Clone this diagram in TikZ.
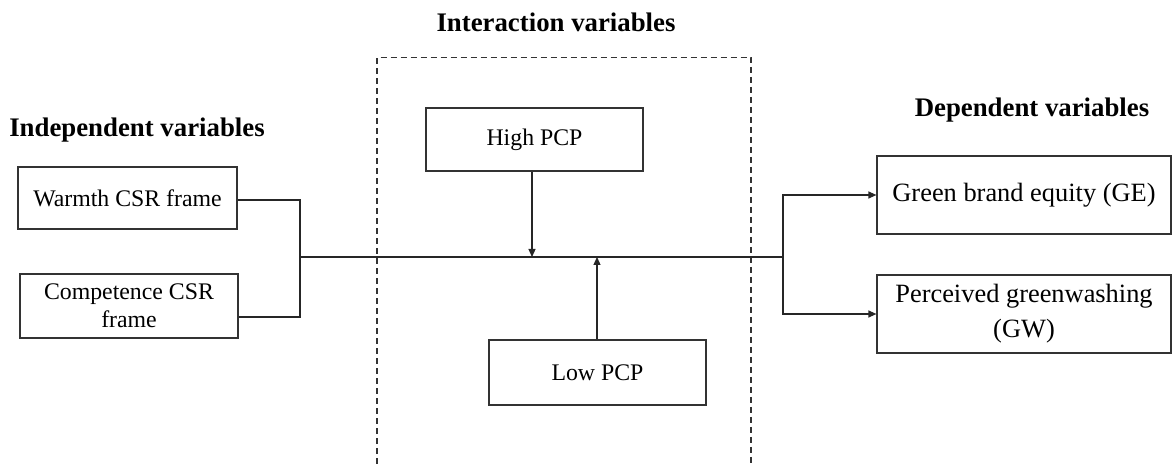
\documentclass[tikz,border=0pt]{standalone}
\usepackage{fontspec}
\setmainfont{Liberation Serif}
\usetikzlibrary{arrows.meta}
\begin{document}
\begin{tikzpicture}[x=0.5pt,y=-0.5pt,
  box/.style={draw=black!80, line width=0.6pt, rectangle, inner sep=2pt, align=center,
    font=\fontsize{11.9}{14}\selectfont},
  bigbox/.style={box, font=\fontsize{13.2}{17.5}\selectfont},
  ttl/.style={anchor=base, inner sep=0pt, font=\fontsize{13.4}{16}\selectfont\bfseries},
  conn/.style={draw=black!85, line width=0.6pt},
  arr/.style={conn, -{Triangle[length=4pt,width=3.5pt]}},
  dashbox/.style={draw=black!80, line width=0.6pt, dash pattern=on 3pt off 2pt}]
\useasboundingbox (0,0) rectangle (1172,464);
% titles
\node[ttl] (tint) at (556,32) {Interaction variables};
\node[ttl] (tind) at (137,137) {Independent variables};
\node[ttl] (tdep) at (1032,117) {Dependent variables};
% dashed frame
\draw[dashbox] (377,464) -- (377,57.5) -- (751,57.5) -- (751,464);
% boxes
\node[box, minimum width=109.5pt, minimum height=31pt] (warm) at (127.5,198) {Warmth CSR frame};
\node[box, minimum width=109pt, minimum height=32pt] (comp) at (129,306) {Competence CSR\\frame};
\node[box, minimum width=108.5pt, minimum height=31.5pt] (high) at (534.5,139.5) {High PCP};
\node[box, minimum width=108.5pt, minimum height=32.5pt] (low) at (597.5,372.5) {Low PCP};
\node[bigbox, minimum width=147pt, minimum height=39pt] (ge) at (1024,195) {Green brand equity (GE)};
\node[bigbox, minimum width=147pt, minimum height=39pt] (gw) at (1024,314) {Perceived greenwashing\\(GW)};
% junctions
\coordinate (j1) at (300,257);
\coordinate (j2) at (783,257);
% connectors
\draw[conn] ([yshift=-1pt]warm.east) -| (j1);
\draw[conn] ([yshift=-5.5pt]comp.east) -| (j1);
\draw[conn] (j1) -- (j2);
\draw[arr] (j2) |- (ge.west);
\draw[arr] (j2) |- (gw.west);
\draw[arr] (high.south -| 532,0) -- (532,257);
\draw[arr] (low.north -| 597,0) -- (597,257);
\end{tikzpicture}
\end{document}
